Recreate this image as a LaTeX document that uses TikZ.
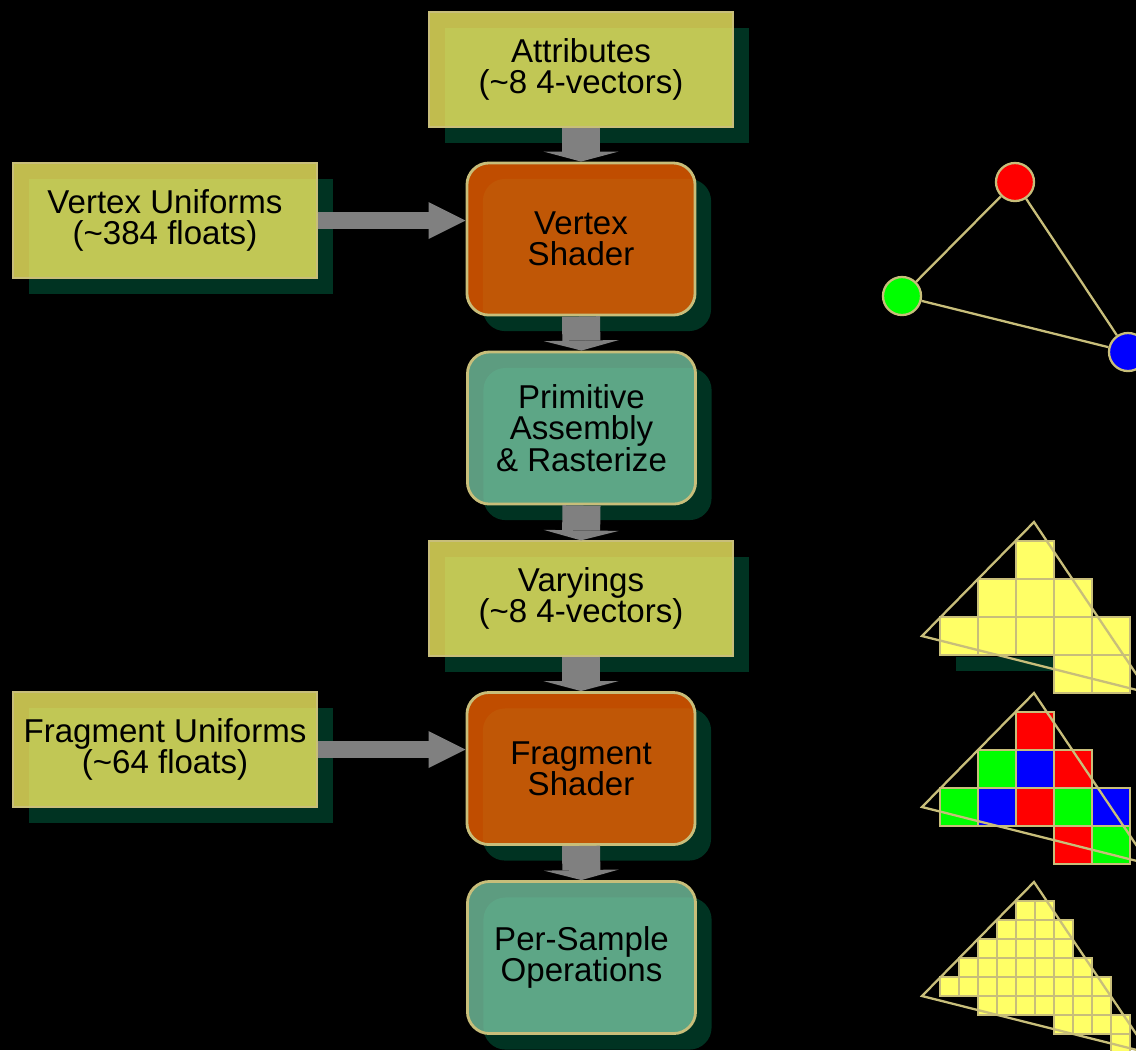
\documentclass[tikz,border=0pt]{standalone}
\usepackage{fontspec}
\setmainfont{Liberation Sans}
\usetikzlibrary{arrows.meta,shadows}

\definecolor{boxyellow}{RGB}{242,236,98}
\definecolor{shaderorange}{RGB}{240,97,0}
\definecolor{fixedgreen}{RGB}{117,195,160}
\definecolor{shadowgreen}{RGB}{0,51,34}
\definecolor{rimkhaki}{RGB}{200,190,122}
\definecolor{pixelyellow}{RGB}{255,255,102}
\definecolor{flowgray}{RGB}{128,128,128}

\tikzset{
  stage/.style={fill opacity=.8, text opacity=1, draw=rimkhaki, align=center, inner sep=0pt,
    font=\fontsize{9.4}{8.9}\selectfont,
    drop shadow={fill=shadowgreen, opacity=1, shadow xshift=.16cm, shadow yshift=-.16cm}},
  databox/.style={stage, fill=boxyellow, line width=.35pt, minimum width=3.04cm, minimum height=1.15cm},
  shaderbox/.style={stage, fill=shaderorange, line width=.8pt, rounded corners=.22cm,
    minimum width=2.28cm, minimum height=1.52cm},
  fixedbox/.style={shaderbox, fill=fixedgreen},
  flowdown/.style={draw=flowgray, line width=.38cm,
    -{Triangle[length=.1cm, width=.75cm, line width=0pt]}},
  flowright/.style={draw=flowgray, line width=.17cm,
    -{Triangle[length=.37cm, width=.37cm, line width=0pt]}},
  rim/.style={draw=rimkhaki, line width=.65pt},
  vtx/.style={circle, rim, minimum size=.38cm, inner sep=0pt},
  pix/.style={rim, line width=.75pt, fill=pixelyellow},
}

\begin{document}
\begin{tikzpicture}[x=0.01cm, y=-0.01cm]
    \useasboundingbox (0,0) rectangle (1136,1050);
    \clip (0,0) rectangle (1136,1050);
    \fill[black] (0,0) rectangle (1136,1050);

    % pipeline stages
    \node[databox] (attr) at (581,69.5) {Attributes\\(\textasciitilde8 4-vectors)};
    \node[databox] (vunif) at (165,220.5) {Vertex Uniforms\\(\textasciitilde384 floats)};
    \node[shaderbox] (vshader) at (581,239) {Vertex\\Shader};
    \node[fixedbox] (raster) at (581.5,428) {Primitive\\Assembly\\\& Rasterize};
    \node[databox] (vary) at (581,598.5) {Varyings\\(\textasciitilde8 4-vectors)};
    \node[databox] (funif) at (165,749.5) {Fragment Uniforms\\(\textasciitilde64 floats)};
    \node[shaderbox] (fshader) at (581,768.5) {Fragment\\Shader};
    \node[fixedbox] (persample) at (581.5,957.5) {Per-Sample\\Operations};

    % data flow
    \draw[flowdown] (attr.south) -- (vshader.north);
    \draw[flowdown] (vshader.south) -- (raster.north);
    \draw[flowdown] (raster.south) -- (vary.north);
    \draw[flowdown] (vary.south) -- (fshader.north);
    \draw[flowdown] (fshader.south) -- (persample.north);
    \draw[flowright] (vunif.east) -- (vunif.east -| vshader.west);
    \draw[flowright] (funif.east) -- (funif.east -| fshader.west);

    % vertices
    \node[vtx, fill=red] (vred) at (1015,182) {};
    \node[vtx, fill=green] (vgreen) at (902,296) {};
    \node[vtx, fill=blue] (vblue) at (1128,352) {};
    \draw[rim] (vred) -- (vgreen) -- (vblue) -- (vred);

    % coarse fragments
    \begin{scope}[shift={(940,541)}]
        \fill[shadowgreen] (16,116) rectangle (113,130);
        \foreach \c/\r in {2/0, 1/1, 2/1, 3/1, 0/2, 1/2, 2/2, 3/2, 4/2, 3/3, 4/3}
            \filldraw[pix] (\c*38,\r*38) rectangle ++(38,38);
        \draw[rim] (94,-19) -- (-18,95) -- (209,152) -- cycle;
    \end{scope}

    % shaded fragments
    \begin{scope}[shift={(940,712)}]
        \foreach \c/\r/\col in {2/0/red, 1/1/green, 2/1/blue, 3/1/red, 0/2/green, 1/2/blue,
                                2/2/red, 3/2/green, 4/2/blue, 3/3/red, 4/3/green}
            \filldraw[pix, fill=\col] (\c*38,\r*38) rectangle ++(38,38);
        \draw[rim] (94,-19) -- (-18,95) -- (209,152) -- cycle;
    \end{scope}

    % samples
    \begin{scope}[shift={(940,901)}]
        \foreach \r/\a/\b in {0/4/5, 1/3/6, 2/2/6, 3/1/7, 4/0/8, 5/2/8, 6/6/9, 7/9/9}
            \foreach \c in {\a,...,\b}
                \filldraw[pix] (\c*19,\r*19) rectangle ++(19,19);
        \draw[rim] (94,-19) -- (-18,95) -- (209,152) -- cycle;
    \end{scope}
\end{tikzpicture}
\end{document}
